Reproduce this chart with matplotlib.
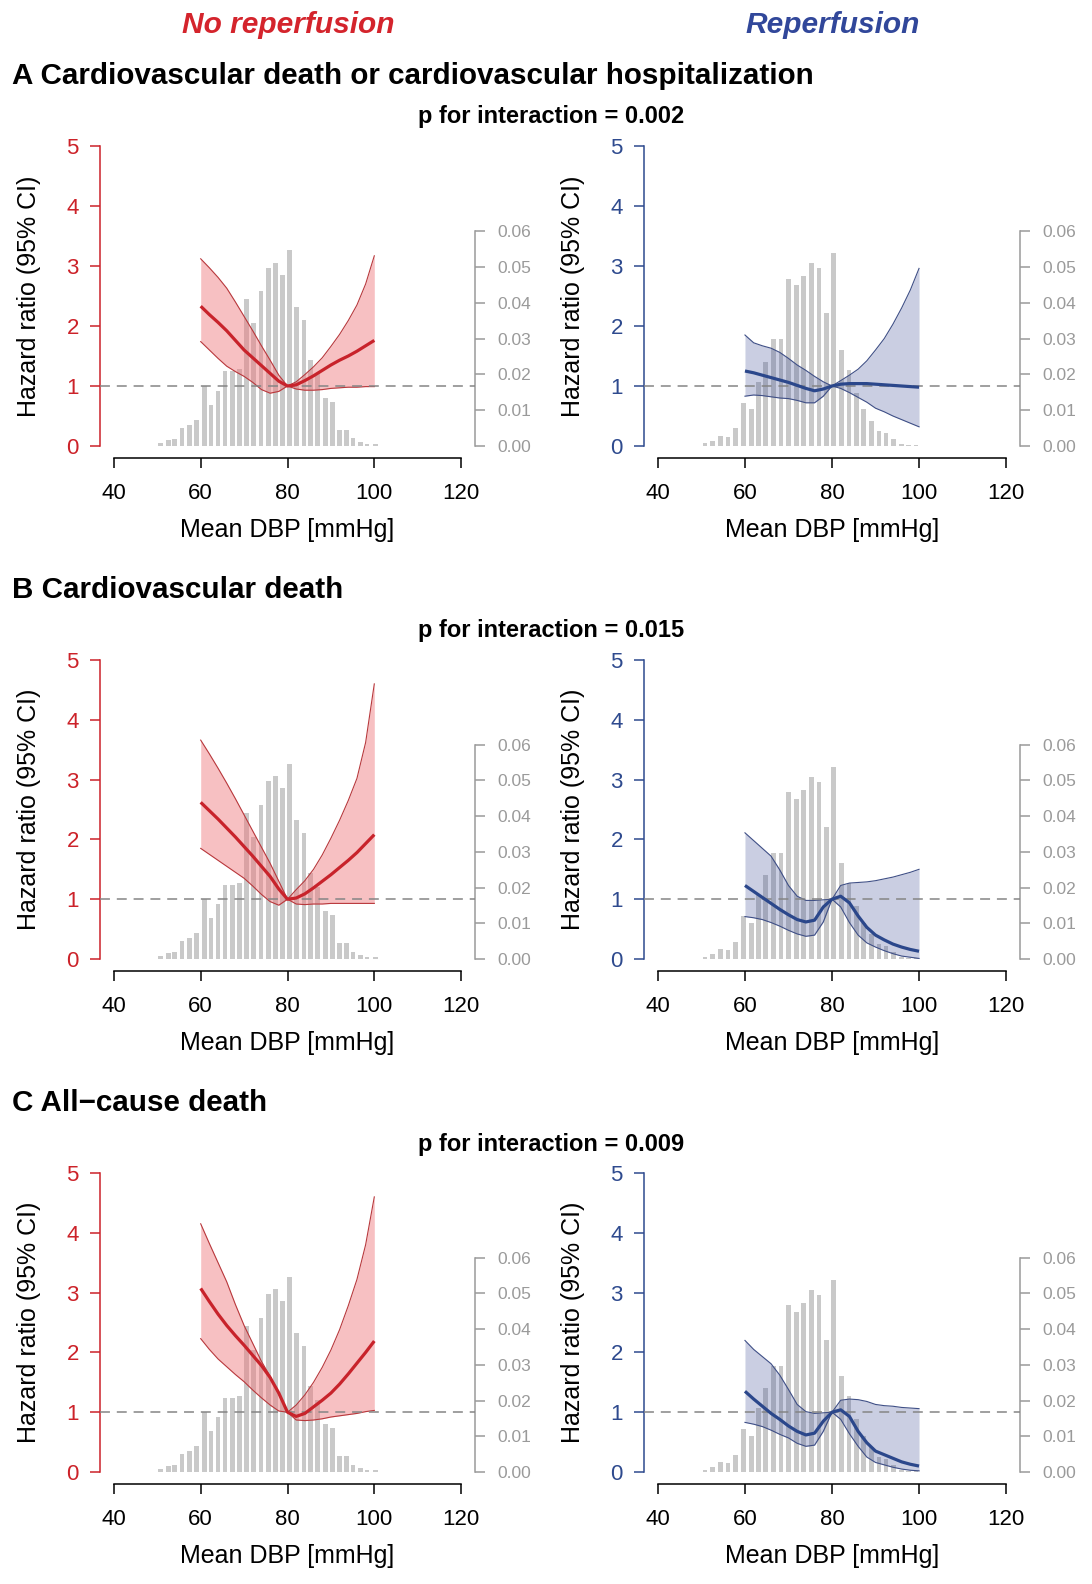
import numpy as np
import matplotlib.pyplot as plt

W, H = 1092, 1584

# mean DBP grid for the spline curves
dbp = [60, 62, 64, 66, 68, 70, 72, 74, 76, 78, 80, 82, 84, 86, 88, 90, 92, 94, 96, 98, 100]

# A: CV death or CV hospitalization
a_nr_mean = [2.33, 2.19, 2.06, 1.92, 1.76, 1.60, 1.47, 1.34, 1.21, 1.08, 1.00, 1.02, 1.09, 1.17, 1.26, 1.35, 1.43, 1.50, 1.58, 1.67, 1.76]
a_nr_hi = [3.12, 2.97, 2.81, 2.63, 2.40, 2.16, 1.92, 1.67, 1.43, 1.18, 1.00, 1.07, 1.19, 1.32, 1.47, 1.66, 1.86, 2.09, 2.35, 2.70, 3.17]
a_nr_lo = [1.74, 1.60, 1.46, 1.33, 1.24, 1.16, 1.06, 0.94, 0.88, 0.91, 1.00, 0.95, 0.93, 0.93, 0.94, 0.96, 0.97, 0.98, 0.98, 0.99, 0.99]
a_r_mean = [1.25, 1.22, 1.18, 1.14, 1.10, 1.06, 1.01, 0.96, 0.92, 0.95, 1.00, 1.03, 1.04, 1.04, 1.04, 1.03, 1.02, 1.01, 1.00, 0.99, 0.98]
a_r_hi = [1.85, 1.72, 1.67, 1.63, 1.56, 1.46, 1.35, 1.26, 1.16, 1.07, 1.00, 1.09, 1.18, 1.28, 1.42, 1.60, 1.79, 2.03, 2.30, 2.60, 2.96]
a_r_lo = [0.83, 0.85, 0.84, 0.82, 0.80, 0.79, 0.76, 0.72, 0.72, 0.83, 1.00, 0.96, 0.89, 0.81, 0.73, 0.63, 0.57, 0.50, 0.44, 0.38, 0.32]

# B: CV death
b_nr_mean = [2.62, 2.48, 2.34, 2.19, 2.04, 1.88, 1.72, 1.55, 1.38, 1.17, 1.00, 1.02, 1.09, 1.19, 1.30, 1.41, 1.53, 1.65, 1.78, 1.93, 2.08]
b_nr_hi = [3.66, 3.43, 3.19, 2.94, 2.68, 2.41, 2.14, 1.87, 1.60, 1.30, 1.00, 1.16, 1.31, 1.50, 1.74, 2.02, 2.32, 2.65, 3.02, 3.62, 4.60]
b_nr_lo = [1.85, 1.75, 1.65, 1.55, 1.45, 1.35, 1.22, 1.08, 0.96, 0.90, 1.00, 0.92, 0.91, 0.92, 0.92, 0.93, 0.93, 0.93, 0.93, 0.93, 0.93]
b_r_mean = [1.23, 1.13, 1.03, 0.93, 0.83, 0.74, 0.66, 0.62, 0.65, 0.87, 1.00, 1.05, 0.94, 0.72, 0.53, 0.40, 0.32, 0.25, 0.20, 0.16, 0.13]
b_r_hi = [2.11, 1.98, 1.85, 1.72, 1.49, 1.23, 1.05, 0.98, 0.98, 0.99, 1.00, 1.23, 1.27, 1.28, 1.29, 1.31, 1.34, 1.37, 1.41, 1.45, 1.50]
b_r_lo = [0.71, 0.69, 0.66, 0.61, 0.55, 0.48, 0.42, 0.38, 0.40, 0.62, 1.00, 0.87, 0.61, 0.40, 0.27, 0.20, 0.14, 0.09, 0.05, 0.03, 0.01]

# C: all-cause death
c_nr_mean = [3.07, 2.85, 2.64, 2.45, 2.28, 2.12, 1.95, 1.78, 1.58, 1.32, 1.00, 0.93, 0.98, 1.09, 1.20, 1.32, 1.47, 1.64, 1.82, 2.00, 2.19]
c_nr_hi = [4.15, 3.82, 3.50, 3.18, 2.80, 2.45, 2.15, 1.85, 1.60, 1.30, 1.00, 1.12, 1.29, 1.50, 1.75, 2.04, 2.38, 2.78, 3.22, 3.80, 4.60]
c_nr_lo = [2.23, 2.05, 1.89, 1.76, 1.63, 1.51, 1.37, 1.24, 1.12, 1.02, 1.00, 0.87, 0.86, 0.87, 0.89, 0.92, 0.94, 0.96, 0.98, 1.01, 1.03]
c_r_mean = [1.35, 1.22, 1.10, 0.98, 0.88, 0.77, 0.68, 0.62, 0.65, 0.85, 1.00, 1.04, 0.93, 0.68, 0.49, 0.35, 0.29, 0.23, 0.17, 0.13, 0.10]
c_r_hi = [2.20, 2.05, 1.93, 1.81, 1.62, 1.38, 1.13, 1.01, 0.98, 0.99, 1.00, 1.20, 1.22, 1.21, 1.18, 1.13, 1.11, 1.10, 1.08, 1.07, 1.06]
c_r_lo = [0.83, 0.80, 0.76, 0.70, 0.63, 0.57, 0.48, 0.43, 0.45, 0.68, 1.00, 0.88, 0.64, 0.43, 0.25, 0.16, 0.12, 0.08, 0.05, 0.03, 0.02]

# DBP distributions (density)
hist_nr_x = [50.8, 52.5, 54.0, 55.7, 57.4, 59.1, 60.8, 62.4, 64.0, 65.6, 67.3, 68.9, 70.5, 72.2, 73.9, 75.6,
             77.3, 78.8, 80.5, 82.1, 83.8, 85.3, 87.0, 88.7, 90.4, 91.9, 93.6, 95.1, 96.8, 98.3, 100.2]
hist_nr_y = [0.0009, 0.0016, 0.0020, 0.0050, 0.0058, 0.0072, 0.0168, 0.0115, 0.0154, 0.0208, 0.0208, 0.0214,
             0.0410, 0.0342, 0.0432, 0.0498, 0.0512, 0.0478, 0.0546, 0.0388, 0.0353, 0.0240, 0.0203, 0.0134,
             0.0122, 0.0044, 0.0044, 0.0021, 0.0012, 0.0006, 0.0006]
hist_r_x = [50.8, 52.6, 54.3, 56.1, 57.8, 59.6, 61.5, 63.1, 64.8, 66.6, 68.3, 70.0, 71.8, 73.5, 75.2,
            77.0, 78.7, 80.4, 82.2, 83.9, 85.6, 87.3, 89.1, 90.8, 92.4, 94.1, 96.0, 97.6, 99.3]
hist_r_y = [0.0007, 0.0014, 0.0029, 0.0026, 0.0049, 0.0121, 0.0102, 0.0178, 0.0234, 0.0298, 0.0298, 0.0467,
            0.0449, 0.0474, 0.0511, 0.0497, 0.0370, 0.0538, 0.0269, 0.0212, 0.0149, 0.0102, 0.0069, 0.0042,
            0.0037, 0.0019, 0.0005, 0.0003, 0.0003]

row_titles = ["A Cardiovascular death or cardiovascular hospitalization",
              "B Cardiovascular death",
              "C All\u2212cause death"]
p_texts = ["p for interaction = 0.002", "p for interaction = 0.015", "p for interaction = 0.009"]

curves = [[(a_nr_mean, a_nr_lo, a_nr_hi), (a_r_mean, a_r_lo, a_r_hi)],
          [(b_nr_mean, b_nr_lo, b_nr_hi), (b_r_mean, b_r_lo, b_r_hi)],
          [(c_nr_mean, c_nr_lo, c_nr_hi), (c_r_mean, c_r_lo, c_r_hi)]]

RED = '#cc2229'
BLUE = '#2e4a8e'
styles = [dict(axis=RED, line='#c8232b', fill='#ef7479', edge='#b8383c', alpha=0.45, hx=hist_nr_x, hy=hist_nr_y),
          dict(axis=BLUE, line='#2b478b', fill='#3b4d96', edge='#3f4f86', alpha=0.27, hx=hist_r_x, hy=hist_r_y)]

plt.rcParams['font.family'] = ['Liberation Sans', 'DejaVu Sans']

fig = plt.figure(figsize=(W / 100, H / 100), dpi=100)

rows_top = [134, 648, 1161]
rows_bot = [458, 971, 1484]
cols = [(100, 475), (644, 1020)]
dens_top = 5.2 * 0.06 / 3.583
dens_bot = -0.2 * 0.06 / 3.583

for r in range(3):
    top, bot = rows_top[r], rows_bot[r]
    for c in range(2):
        left, right = cols[c]
        st = styles[c]
        ax = fig.add_axes([left / W, 1 - bot / H, (right - left) / W, (bot - top) / H])
        ax2 = ax.twinx()
        ax2.bar(st['hx'], st['hy'], width=1.1, color='#c9c9c9', linewidth=0)
        ax2.set_ylim(dens_bot, dens_top)
        ax.set_zorder(ax2.get_zorder() + 1)
        ax.patch.set_visible(False)

        mean, lo, hi = curves[r][c]
        ax.fill_between(dbp, lo, hi, color=st['fill'], alpha=st['alpha'], linewidth=0, zorder=2)
        ax.plot(dbp, lo, color=st['edge'], lw=0.8, zorder=3)
        ax.plot(dbp, hi, color=st['edge'], lw=0.8, zorder=3)
        ax.axhline(1, color='#858585', lw=1.1, ls=(0, (6.5, 4.5)), zorder=3)
        ax.plot(dbp, mean, color=st['line'], lw=2.3, zorder=4, solid_capstyle='butt')

        ax.set_xlim(36.8, 123.2)
        ax.set_ylim(-0.2, 5.2)
        ax.set_xticks([40, 60, 80, 100, 120])
        ax.set_yticks([0, 1, 2, 3, 4, 5])
        for s in ['top', 'right']:
            ax.spines[s].set_visible(False)
        ax.spines['left'].set_bounds(0, 5)
        ax.spines['left'].set_color(st['axis'])
        ax.spines['bottom'].set_bounds(40, 120)
        for s in ['left', 'bottom']:
            ax.spines[s].set_linewidth(1.1)
        ax.tick_params(axis='y', colors=st['axis'], length=7.2, width=1.1, labelsize=16, pad=8)
        ax.tick_params(axis='x', colors='black', length=7.2, width=1.1, labelsize=16, pad=11)

        for s in ['top', 'left', 'bottom']:
            ax2.spines[s].set_visible(False)
        ax2.spines['right'].set_bounds(0, 0.06)
        ax2.spines['right'].set_color('#9a9a9a')
        ax2.spines['right'].set_linewidth(1.1)
        ax2.set_yticks([0, 0.01, 0.02, 0.03, 0.04, 0.05, 0.06])
        ax2.set_yticklabels(['%.2f' % v for v in [0, 0.01, 0.02, 0.03, 0.04, 0.05, 0.06]])
        ax2.tick_params(axis='y', colors='#9a9a9a', length=7.2, width=1.1, labelsize=12.5, pad=9)

        ax.text(0.5, -72 / (bot - top), 'Mean DBP [mmHg]', transform=ax.transAxes,
                ha='center', va='center', fontsize=18)
        ax.text(-0.19, 0.5, 'Hazard ratio (95% CI)', transform=ax.transAxes, rotation=90,
                ha='center', va='center', fontsize=18)

    fig.text(12 / W, 1 - (top - 58) / H, row_titles[r], ha='left', va='center',
             fontsize=21.3, fontweight='bold')
    fig.text(551 / W, 1 - (top - 17) / H, p_texts[r], ha='center', va='center',
             fontsize=17, fontweight='bold')

fig.text(288 / W, 1 - 25 / H, 'No reperfusion', ha='center', va='center', fontsize=21.5,
         fontweight='bold', fontstyle='italic', color='#d4242c')
fig.text(833 / W, 1 - 25 / H, 'Reperfusion', ha='center', va='center', fontsize=21.5,
         fontweight='bold', fontstyle='italic', color='#31479a')

fig.savefig('out.png', dpi=100)
